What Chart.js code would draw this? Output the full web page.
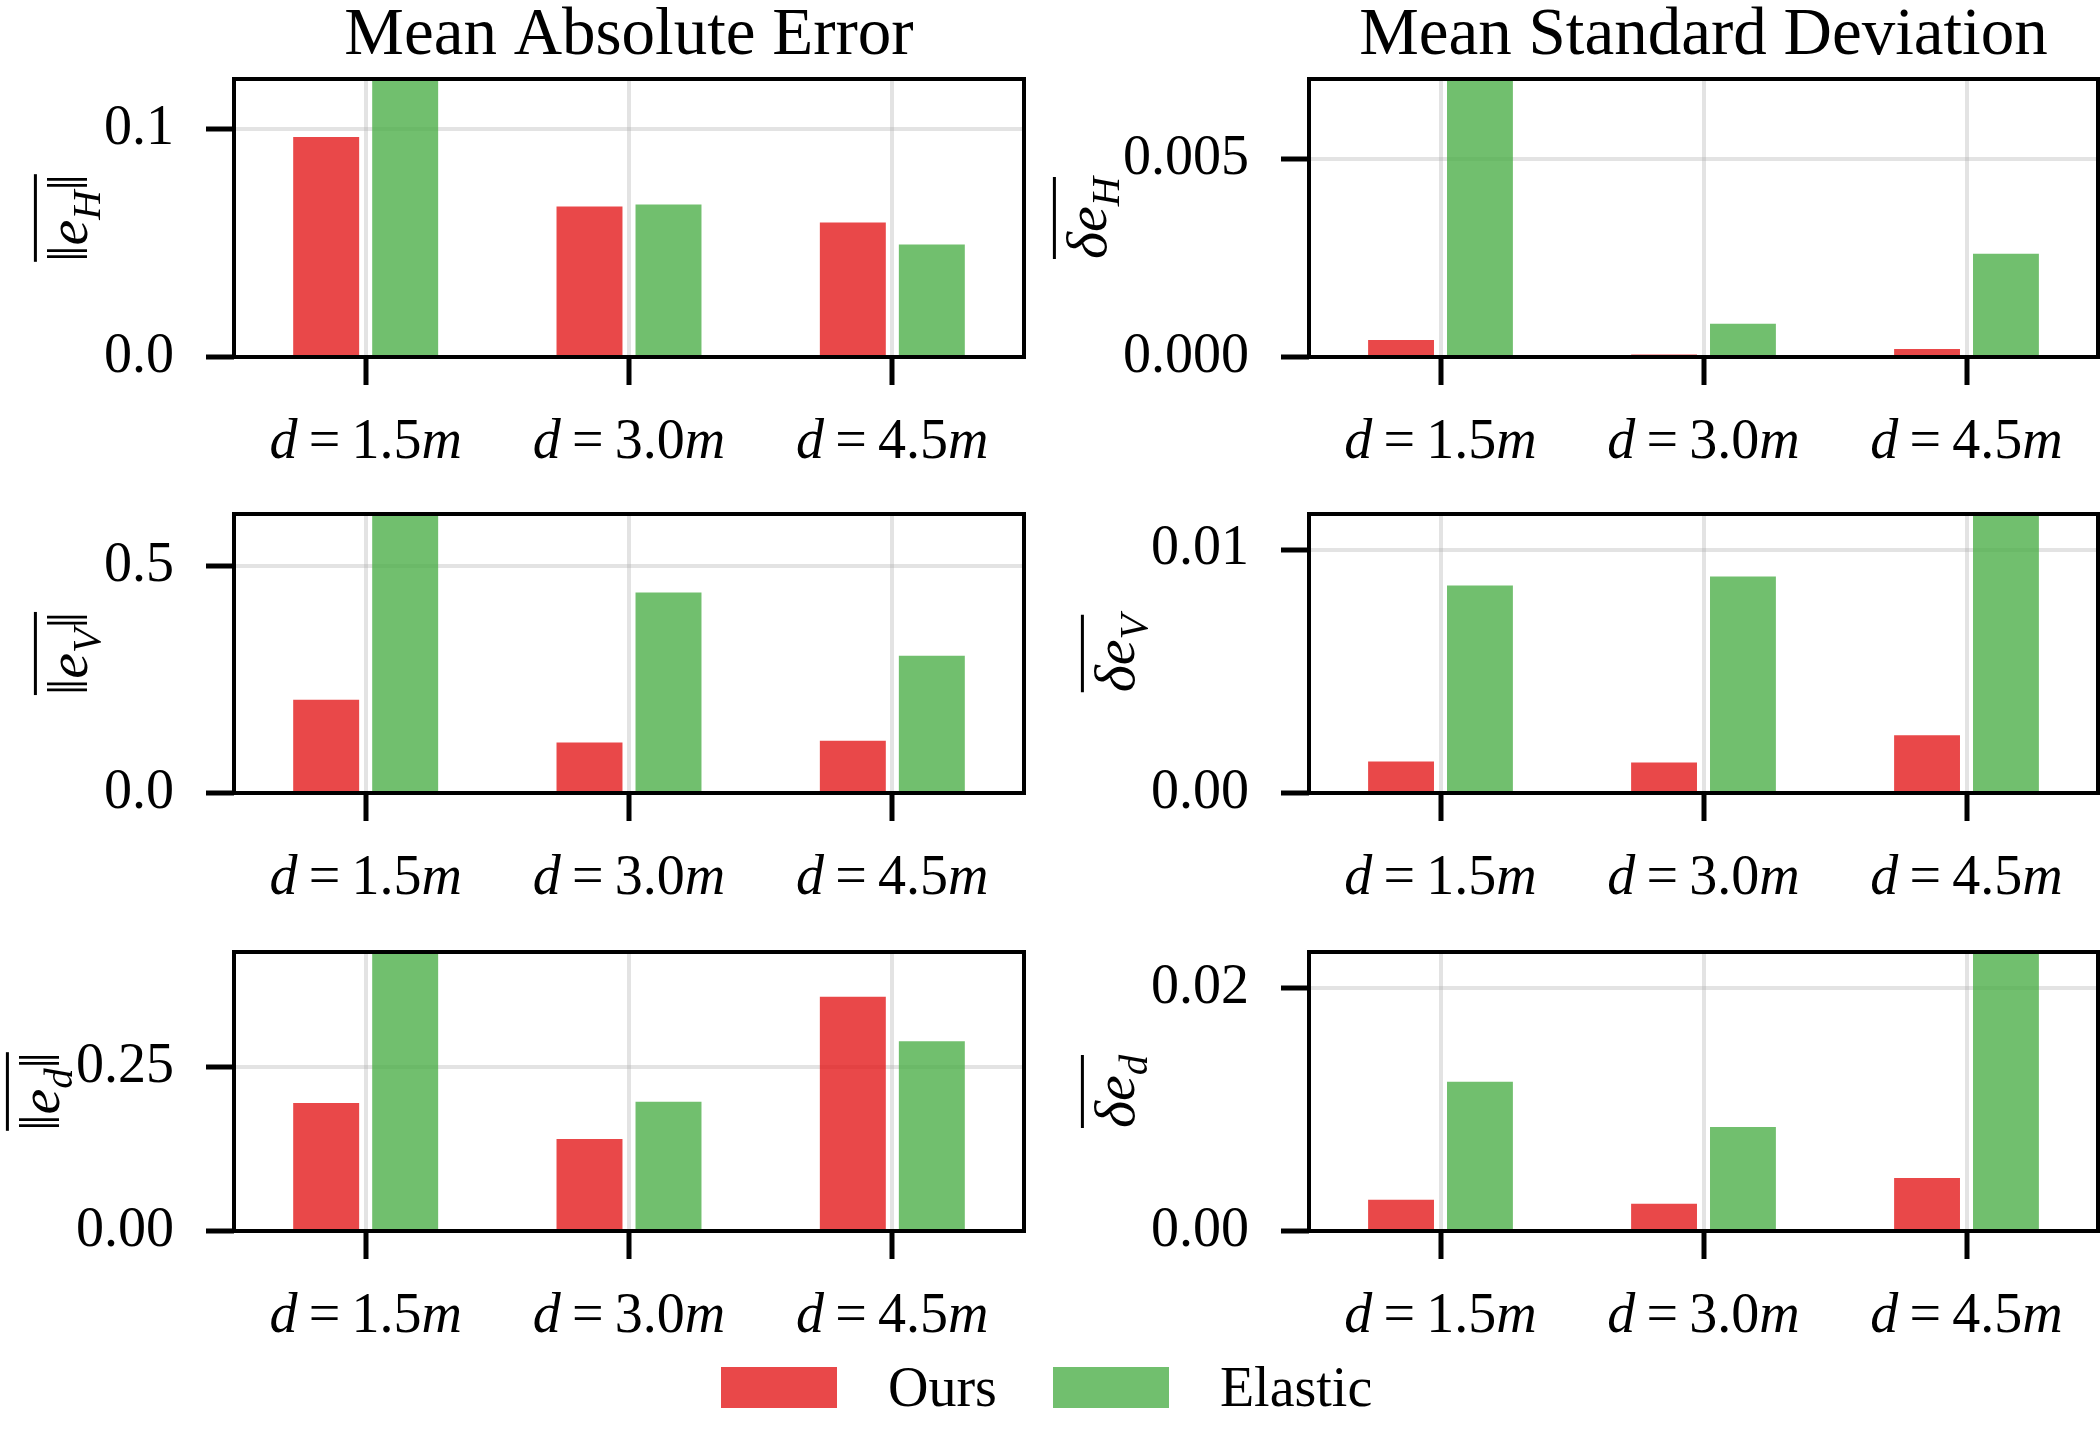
<!DOCTYPE html>
<html>
<head>
<meta charset="utf-8">
<title>Mean Absolute Error / Mean Standard Deviation</title>
<script src="https://cdn.jsdelivr.net/npm/chart.js@4.4.1/dist/chart.umd.min.js"></script>
<style>
  body { margin: 0; background: #fff; }
  #page { position: relative; width: 2100px; height: 1440px; background: #fff; overflow: hidden;
          font-family: 'Liberation Serif', 'Times New Roman', serif; }
  #page canvas { position: absolute; }
  #legend { position: absolute; left: 721px; top: 1367px; display: flex; align-items: flex-start; }
  #legend .box { width: 116px; height: 41px; }
  #legend .txt { font-size: 56px; line-height: 41px; height: 41px; margin-left: 51px; margin-right: 56px; white-space: nowrap; }
</style>
</head>
<body>
<div id="page">
  <canvas id="maeH"></canvas>
  <canvas id="stdH"></canvas>
  <canvas id="maeV"></canvas>
  <canvas id="stdV"></canvas>
  <canvas id="maeD"></canvas>
  <canvas id="stdD"></canvas>
  <div id="legend"></div>
</div>
<script>
// ---- data ----
const distances = ['1.5', '3.0', '4.5'];
const seriesNames = ['Ours', 'Elastic'];
const seriesColors = ['rgba(228,26,28,0.8)', 'rgba(77,175,74,0.8)'];
const columnTitles = ['Mean Absolute Error', 'Mean Standard Deviation'];

// mean absolute error
const oursMaeH = [0.0965, 0.066, 0.059];
const elasticMaeH = [0.16, 0.0669, 0.0494];
const oursMaeV = [0.205, 0.111, 0.115];
const elasticMaeV = [0.85, 0.441, 0.302];
const oursMaeD = [0.195, 0.140, 0.357];
const elasticMaeD = [0.62, 0.197, 0.289];

// mean standard deviation
const oursStdH = [0.00043, 0.00006, 0.0002];
const elasticStdH = [0.0095, 0.00084, 0.00261];
const oursStdV = [0.0013, 0.00125, 0.00237];
const elasticStdV = [0.00853, 0.0089, 0.0135];
const oursStdD = [0.00258, 0.00225, 0.00437];
const elasticStdD = [0.01229, 0.00856, 0.03];

// y ticks / labels / upper limits
const yTicksMaeH = [0, 0.1];     const yLabelsMaeH = ['0.0', '0.1'];     const yMaxMaeH = 0.122;
const yTicksMaeV = [0, 0.5];     const yLabelsMaeV = ['0.0', '0.5'];     const yMaxMaeV = 0.614;
const yTicksMaeD = [0, 0.25];    const yLabelsMaeD = ['0.00', '0.25'];   const yMaxMaeD = 0.425;
const yTicksStdH = [0, 0.005];   const yLabelsStdH = ['0.000', '0.005']; const yMaxStdH = 0.00702;
const yTicksStdV = [0, 0.01];    const yLabelsStdV = ['0.00', '0.01'];   const yMaxStdV = 0.01147;
const yTicksStdD = [0, 0.02];    const yLabelsStdD = ['0.00', '0.02'];   const yMaxStdD = 0.02296;

// ---- layout ----
const FONT = '"Liberation Serif", "DejaVu Serif", serif';
const GRID = 'rgba(176,176,176,0.35)';
const X_AXIS_H = 120;
const PAD_TOP = 79;
const TICK_LEN = 28;
const TICK_PAD = 32;
const columns = [
  { left: 0, width: 1030, axisW: 234, padRight: 6 },
  { left: 1050, width: 1050, axisW: 259, padRight: 2 },
];
const rows = [
  { areaTop: 79, areaBottom: 357 },
  { areaTop: 514, areaBottom: 793 },
  { areaTop: 952, areaBottom: 1231 },
];

Chart.defaults.font.family = FONT;

function layoutRich(ctx, segs, size) {
  return segs.map(s => {
    const fs = s.sub ? size * 0.7 : size;
    const font = (s.it ? 'italic ' : '') + fs + 'px ' + FONT;
    ctx.font = font;
    const m = ctx.measureText(s.t);
    const pad = (s.pad || 0) * size;
    const dy = s.sub ? size * 0.22 : 0;
    return { t: s.t, font, pad, dy, w: m.width + 2 * pad, asc: m.actualBoundingBoxAscent - dy };
  });
}

function drawRich(ctx, parts, x0, y) {
  let x = x0;
  parts.forEach(p => {
    ctx.font = p.font;
    ctx.fillText(p.t, x + p.pad, y + p.dy);
    x += p.w;
  });
}

// frame, math tick labels, axis titles
const panelDecor = {
  id: 'panelDecor',
  afterDraw(chart, args, opts) {
    const { ctx, chartArea: a } = chart;
    const xs = chart.scales.x;
    ctx.save();
    ctx.fillStyle = '#000';
    ctx.strokeStyle = '#000';
    ctx.textAlign = 'left';
    ctx.textBaseline = 'alphabetic';

    // box
    ctx.lineWidth = 4;
    ctx.strokeRect(a.left, a.top, a.right - a.left, a.bottom - a.top);

    // x tick labels  d = 1.5m
    chart.data.labels.forEach((lab, i) => {
      const parts = layoutRich(ctx, [
        { t: 'd', it: true }, { t: '=', pad: 0.2 }, { t: lab }, { t: 'm', it: true }
      ], 56);
      const w = parts.reduce((s, p) => s + p.w, 0);
      drawRich(ctx, parts, xs.getPixelForTick(i) - w / 2, a.bottom + 101);
    });

    // y title, rotated, with overline
    ctx.font = '56px ' + FONT;
    const maxLab = Math.max(...opts.yLabels.map(l => ctx.measureText(l).width));
    const labelsLeft = a.left - TICK_LEN - TICK_PAD - maxLab;
    ctx.save();
    ctx.translate(labelsLeft - 17, (a.top + a.bottom) / 2);
    ctx.rotate(-Math.PI / 2);
    const tp = layoutRich(ctx, opts.yTitle, 58);
    const tw = tp.reduce((s, p) => s + p.w, 0);
    drawRich(ctx, tp, -tw / 2, 0);
    const top = Math.max(...tp.map(p => p.asc));
    ctx.fillRect(-tw / 2, -top - 0.2 * 58 - 1.5, tw, 3);
    ctx.restore();

    // column title
    if (opts.title) {
      ctx.font = '67px ' + FONT;
      ctx.textAlign = 'center';
      ctx.fillText(opts.title, (a.left + a.right) / 2, a.top - 25);
    }
    ctx.restore();
  }
};

function makePanel(p) {
  const col = columns[p.col], row = rows[p.row];
  const canvasTop = row.areaTop - PAD_TOP;
  const h = row.areaBottom - canvasTop + X_AXIS_H;
  const canvas = document.getElementById(p.id);
  canvas.width = col.width;
  canvas.height = h;
  canvas.style.left = col.left + 'px';
  canvas.style.top = canvasTop + 'px';
  canvas.style.width = col.width + 'px';
  canvas.style.height = h + 'px';

  new Chart(canvas.getContext('2d'), {
    type: 'bar',
    data: {
      labels: distances,
      datasets: [
        { label: seriesNames[0], data: p.ours, backgroundColor: seriesColors[0], borderWidth: 0 },
        { label: seriesNames[1], data: p.elastic, backgroundColor: seriesColors[1], borderWidth: 0 },
      ],
    },
    options: {
      responsive: false,
      devicePixelRatio: 1,
      animation: false,
      layout: { padding: { top: PAD_TOP, right: col.padRight, left: 0, bottom: 0 } },
      datasets: { bar: { categoryPercentage: 0.6, barPercentage: 0.835 } },
      plugins: {
        legend: { display: false },
        tooltip: { enabled: false },
        panelDecor: { yTitle: p.yTitle, yLabels: p.yLabels, title: p.row === 0 ? columnTitles[p.col] : null },
      },
      scales: {
        x: {
          z: 1,
          offset: true,
          border: { display: false },
          grid: { offset: false, color: GRID, lineWidth: 4, tickLength: TICK_LEN, tickWidth: 5, tickColor: '#000' },
          ticks: { display: false },
          afterFit: s => { s.height = X_AXIS_H; },
        },
        y: {
          z: 1,
          min: 0,
          max: p.yMax,
          border: { display: false },
          grid: { color: GRID, lineWidth: 4, tickLength: TICK_LEN, tickWidth: 5, tickColor: '#000' },
          ticks: {
            color: '#000',
            font: { size: 56 },
            padding: TICK_PAD,
            callback: v => p.yLabels[p.yTicks.indexOf(v)],
          },
          afterBuildTicks: s => { s.ticks = p.yTicks.map(v => ({ value: v })); },
          afterFit: s => { s.width = col.axisW; },
        },
      },
    },
    plugins: [panelDecor],
  });
}

const normE = sub => [{ t: '‖' }, { t: 'e', it: true }, { t: sub, it: true, sub: true }, { t: '‖' }];
const deltaE = sub => [{ t: 'δ', it: true }, { t: 'e', it: true }, { t: sub, it: true, sub: true }];

makePanel({ id: 'maeH', col: 0, row: 0, ours: oursMaeH, elastic: elasticMaeH, yTicks: yTicksMaeH, yLabels: yLabelsMaeH, yMax: yMaxMaeH, yTitle: normE('H') });
makePanel({ id: 'maeV', col: 0, row: 1, ours: oursMaeV, elastic: elasticMaeV, yTicks: yTicksMaeV, yLabels: yLabelsMaeV, yMax: yMaxMaeV, yTitle: normE('V') });
makePanel({ id: 'maeD', col: 0, row: 2, ours: oursMaeD, elastic: elasticMaeD, yTicks: yTicksMaeD, yLabels: yLabelsMaeD, yMax: yMaxMaeD, yTitle: normE('d') });
makePanel({ id: 'stdH', col: 1, row: 0, ours: oursStdH, elastic: elasticStdH, yTicks: yTicksStdH, yLabels: yLabelsStdH, yMax: yMaxStdH, yTitle: deltaE('H') });
makePanel({ id: 'stdV', col: 1, row: 1, ours: oursStdV, elastic: elasticStdV, yTicks: yTicksStdV, yLabels: yLabelsStdV, yMax: yMaxStdV, yTitle: deltaE('V') });
makePanel({ id: 'stdD', col: 1, row: 2, ours: oursStdD, elastic: elasticStdD, yTicks: yTicksStdD, yLabels: yLabelsStdD, yMax: yMaxStdD, yTitle: deltaE('d') });

// shared legend
const legend = document.getElementById('legend');
seriesNames.forEach((name, i) => {
  const box = document.createElement('div');
  box.className = 'box';
  box.style.background = seriesColors[i];
  const txt = document.createElement('div');
  txt.className = 'txt';
  txt.textContent = name;
  legend.appendChild(box);
  legend.appendChild(txt);
});
</script>
</body>
</html>
